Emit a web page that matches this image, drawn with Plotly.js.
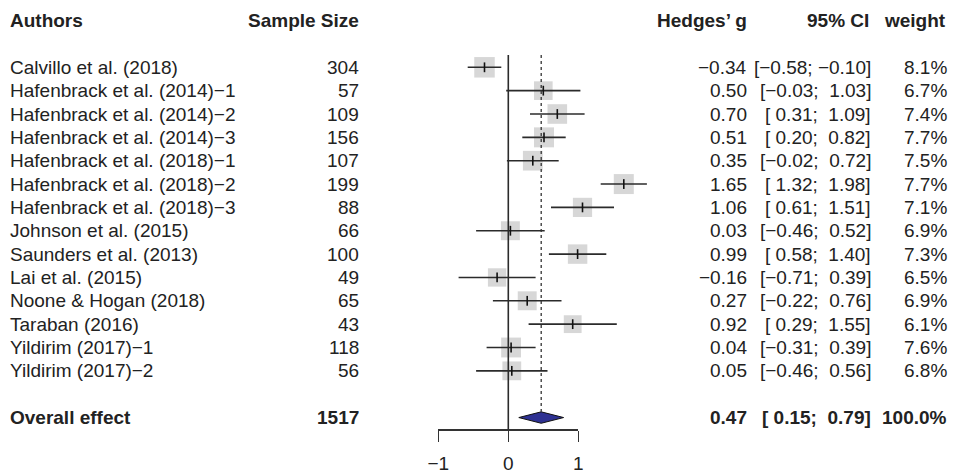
<!DOCTYPE html>
<html>
<head>
<meta charset="utf-8">
<script src="https://cdn.plot.ly/plotly-3.0.1.min.js"></script>
<style>html,body{margin:0;padding:0;background:#fff;}#chart{width:956px;height:474px;}</style>
</head>
<body>
<div id="chart"></div>
<script>
// ---- data ----
const authors = ["Calvillo et al. (2018)", "Hafenbrack et al. (2014)\u22121", "Hafenbrack et al. (2014)\u22122",
  "Hafenbrack et al. (2014)\u22123", "Hafenbrack et al. (2018)\u22121", "Hafenbrack et al. (2018)\u22122",
  "Hafenbrack et al. (2018)\u22123", "Johnson et al. (2015)", "Saunders et al. (2013)", "Lai et al. (2015)",
  "Noone & Hogan (2018)", "Taraban (2016)", "Yildirim (2017)\u22121", "Yildirim (2017)\u22122"];
const sampleSize = [304, 57, 109, 156, 107, 199, 88, 66, 100, 49, 65, 43, 118, 56];
const hedgesG = [-0.34, 0.50, 0.70, 0.51, 0.35, 1.65, 1.06, 0.03, 0.99, -0.16, 0.27, 0.92, 0.04, 0.05];
const ciLow = [-0.58, -0.03, 0.31, 0.20, -0.02, 1.32, 0.61, -0.46, 0.58, -0.71, -0.22, 0.29, -0.31, -0.46];
const ciHigh = [-0.10, 1.03, 1.09, 0.82, 0.72, 1.98, 1.51, 0.52, 1.40, 0.39, 0.76, 1.55, 0.39, 0.56];
const weight = [8.1, 6.7, 7.4, 7.7, 7.5, 7.7, 7.1, 6.9, 7.3, 6.5, 6.9, 6.1, 7.6, 6.8];
const overallLabel = "Overall effect";
const overallN = 1517;
const overallG = 0.47;
const overallLow = 0.15;
const overallHigh = 0.79;
const overallWeight = 100.0;
const headers = ["Authors", "Sample Size", "Hedges\u2019 g", "95% CI", "weight"];
const axisTickVals = [-1, 0, 1];
const axisTickText = ["\u22121", "0", "1"];

// ---- helpers ----
const W = 956, H = 474;
const FONT = "Liberation Sans, Arial, Helvetica, sans-serif";
const FS = 19;
const rows = authors.map((_, i) => i);
const overallRow = authors.length + 1;
const headerRow = -2;
const NB = "\u00A0";
function fmt(v) { return (v < 0 ? "\u2212" : "") + Math.abs(v).toFixed(2); }
function ci(lo, hi) {
  return "[" + (lo >= 0 ? NB : "") + fmt(lo) + ";" + NB + (hi >= 0 ? NB : "") + fmt(hi) + "]";
}
const px = p => p / W;

// ---- traces ----
const traces = [];
// squares
traces.push({
  type: "scatter", mode: "markers", x: hedgesG, y: rows,
  marker: { symbol: "square", color: "#C6C6C6", size: weight.map(w => 20.5 * Math.sqrt(w / 8.1)), line: { width: 0 } },
  hoverinfo: "skip", showlegend: false
});
// CI lines
const lx = [], ly = [];
rows.forEach(i => { lx.push(ciLow[i], ciHigh[i], null); ly.push(i, i, null); });
traces.push({
  type: "scatter", mode: "lines", x: lx, y: ly,
  line: { color: "#2b2b2b", width: 1.6 }, hoverinfo: "skip", showlegend: false
});
// centre ticks
traces.push({
  type: "scatter", mode: "markers", x: hedgesG, y: rows,
  marker: { symbol: "line-ns", size: 7, line: { color: "#111", width: 1.6 } },
  hoverinfo: "skip", showlegend: false
});
// diamond
const dh = 0.245;
traces.push({
  type: "scatter", mode: "lines", fill: "toself",
  x: [overallLow, overallG, overallHigh, overallG, overallLow],
  y: [overallRow, overallRow - dh, overallRow, overallRow + dh, overallRow],
  fillcolor: "#2E3192", line: { color: "#111", width: 1 },
  hoverinfo: "skip", showlegend: false
});
// dummy for axis subplot
traces.push({ type: "scatter", mode: "markers", x: [0], y: [0], xaxis: "x2", yaxis: "y2",
  marker: { opacity: 0 }, hoverinfo: "skip", showlegend: false });

// ---- annotations ----
const ann = [];
function addText(text, xp, row, anchor, bold) {
  ann.push({ xref: "paper", yref: "y", x: px(xp), y: row, xanchor: anchor, yanchor: "middle",
    text: bold ? "<b>" + text + "</b>" : text, showarrow: false,
    font: { family: FONT, size: FS, color: "#222" } });
}
const colAuthor = 8, colN = 361, colG = 749, colCI = 873, colW = 949;
addText(headers[0], colAuthor, headerRow, "left", true);
addText(headers[1], colN, headerRow, "right", true);
addText(headers[2], colG, headerRow, "right", true);
addText(headers[3], colCI - 2, headerRow, "right", true);
addText(headers[4], colW - 1, headerRow, "right", true);
rows.forEach(i => {
  addText(authors[i], colAuthor, i, "left", false);
  addText(String(sampleSize[i]), colN, i, "right", false);
  addText(fmt(hedgesG[i]), colG, i, "right", false);
  addText(ci(ciLow[i], ciHigh[i]), colCI, i, "right", false);
  addText(weight[i].toFixed(1) + "%", colW, i, "right", false);
});
addText(overallLabel, colAuthor, overallRow, "left", true);
addText(String(overallN), colN, overallRow, "right", true);
addText(fmt(overallG), colG, overallRow, "right", true);
addText(ci(overallLow, overallHigh), colCI, overallRow, "right", true);
addText(overallWeight.toFixed(1) + "%", colW, overallRow, "right", true);

// ---- geometry ----
const x0px = 508.3, unit = 70;
const rowTop = 67.3, rowStep = 23.35;
const toRow = p => (p - rowTop) / rowStep;
const axisPx = 429.3;

const shapes = [
  { type: "line", xref: "x", yref: "y", x0: 0, x1: 0, y0: toRow(55), y1: toRow(axisPx),
    line: { color: "#2b2b2b", width: 1.6 } },
  { type: "line", xref: "x", yref: "y", x0: overallG, x1: overallG, y0: toRow(55), y1: overallRow - dh,
    line: { color: "#333", width: 1.3, dash: "dot" } }
];

const layout = {
  width: W, height: H,
  margin: { l: 0, r: 0, t: 0, b: 0, pad: 0 },
  paper_bgcolor: "#fff", plot_bgcolor: "rgba(0,0,0,0)",
  xaxis: { range: [-x0px / unit, (W - x0px) / unit], visible: false, fixedrange: true },
  yaxis: { range: [toRow(H), toRow(0)], visible: false, fixedrange: true },
  xaxis2: { anchor: "y2", domain: [px(x0px - unit), px(x0px + unit)], range: [-1, 1],
    showline: true, linecolor: "#333", linewidth: 1.2, ticks: "outside", ticklen: 11,
    tickcolor: "#333", tickwidth: 1.2, tickvals: axisTickVals, ticktext: axisTickText,
    showgrid: false, zeroline: false, ticklabelstandoff: 6,
    tickfont: { family: FONT, size: FS, color: "#222" }, fixedrange: true },
  yaxis2: { anchor: "x2", domain: [(H - axisPx) / H, (H - axisPx) / H + 0.01], visible: false, fixedrange: true },
  shapes: shapes,
  annotations: ann,
  showlegend: false
};

Plotly.newPlot("chart", traces, layout, { displayModeBar: false, staticPlot: true });
</script>
</body>
</html>
